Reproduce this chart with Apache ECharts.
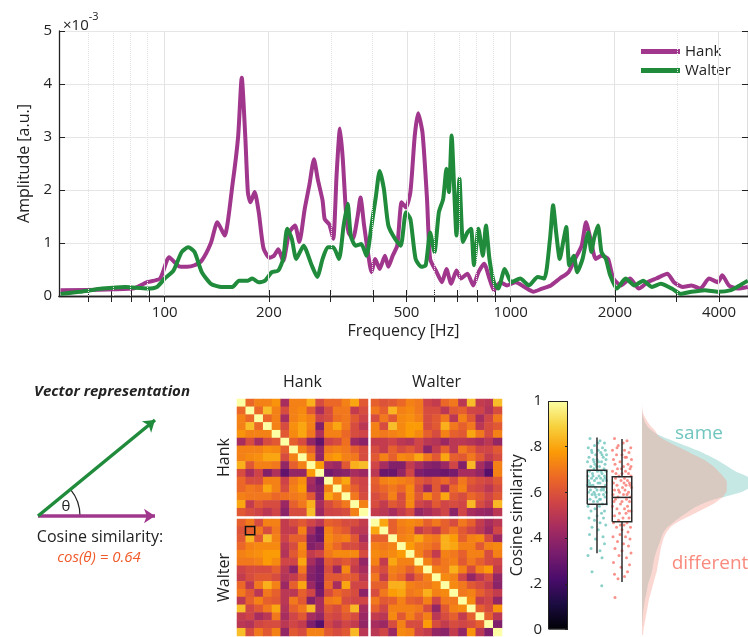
<!DOCTYPE html>
<html><head><meta charset="utf-8">
<script src="https://cdn.jsdelivr.net/npm/echarts@6/dist/echarts.min.js"></script>
<style>html,body{margin:0;padding:0;background:#fff}#c{width:748px;height:637px}</style>
</head><body><div id="c"></div>
<script>
// ---------------- Spectrum data (Hz, amplitude x1e-3) ----------------
const hankFreq = [50,81,89,97,103,110,116,122,128,136,142,149,157,163,167,171,174,177,182,187,193,201,207,213,220,229,238,245,254,262,270,277,286,290,299,307,314,321,327,334,340,350,361,368,377,388,396,406,418,433,443,456,470,484,498,513,528,540,556,573,585,611,633,652,673,697,718,750,779,807,838,868,894,934,976,1034,1096,1163,1232,1307,1386,1469,1535,1604,1651,1700,1761,1829,1911,1979,2086,2212,2346,2487,2636,2836,2963,3142,3331,3531,3744,3969,4087,4270,4528,4843];
const hankAmp  = [0.11,0.14,0.26,0.33,0.73,0.56,0.55,0.58,0.67,1.0,1.39,1.14,2.1,3.0,4.12,3.0,1.95,1.77,1.96,1.58,0.9,0.72,0.76,0.88,0.66,1.2,1.33,1.02,1.65,2.1,2.58,2.2,1.8,1.45,1.35,1.08,2.3,3.16,2.6,1.6,1.2,1.08,1.5,1.86,1.33,0.76,0.45,0.70,0.51,0.76,0.55,0.76,0.95,1.77,1.67,1.96,3.02,3.45,3.08,1.83,0.70,0.45,0.26,0.51,0.23,0.48,0.33,0.42,0.20,0.45,0.61,0.33,0.11,0.26,0.20,0.26,0.17,0.08,0.14,0.20,0.33,0.45,0.70,0.95,1.39,1.08,0.70,0.76,0.70,0.33,0.20,0.33,0.14,0.26,0.33,0.42,0.26,0.17,0.20,0.14,0.33,0.26,0.39,0.20,0.14,0.17];
const walterFreq = [50,57,66,77,89,95,100,106,112,117,122,128,136,146,157,164,174,179,187,195,204,213,220,226,233,240,252,266,276,286,296,307,319,329,338,345,356,370,383,396,408,418,430,443,463,481,498,513,531,552,568,585,602,620,638,652,663,675,687,697,711,728,750,768,783,807,831,848,868,894,920,961,1004,1065,1129,1197,1251,1299,1326,1353,1386,1418,1447,1477,1521,1557,1613,1675,1710,1740,1787,1829,1883,1939,2026,2148,2278,2415,2560,2714,2921,3097,3331,3636,3969,4335,4594,4843];
const walterAmp  = [0.04,0.08,0.14,0.17,0.14,0.17,0.33,0.48,0.83,0.92,0.83,0.45,0.23,0.17,0.17,0.29,0.29,0.33,0.26,0.29,0.45,0.48,0.70,1.27,1.08,0.70,0.95,0.58,0.36,0.70,0.92,0.92,0.70,1.33,1.74,1.14,0.95,0.98,0.76,1.33,1.89,2.36,2.02,1.33,1.08,0.95,1.58,1.45,0.70,0.55,0.58,1.2,0.83,1.58,1.83,2.4,1.96,3.03,1.96,1.14,2.21,1.02,1.2,1.27,0.58,1.27,0.76,1.33,0.70,0.26,0.14,0.51,0.26,0.33,0.2,0.36,0.33,1.08,1.71,1.2,0.70,1.02,1.30,0.58,0.76,0.45,0.70,1.2,0.83,1.08,1.33,0.83,0.70,0.39,0.14,0.33,0.2,0.29,0.17,0.23,0.14,0.04,0.08,0.11,0.08,0.11,0.2,0.29];
const freqLabels = [100,200,500,1000,2000,4000];
const freqTicks = [60,70,80,90,100,200,300,400,500,600,700,800,900,1000,2000,3000,4000];
const freqRange = [49.5,4850];
const ampTicks = [0,1,2,3,4,5];

// ---------------- Similarity matrix (upper triangles + cross block) ----------------
const hankHank = [
 [0.66,0.72,0.72,0.76,0.45,0.72,0.72,0.82,0.58,0.66,0.66,0.72,0.80,0.62],
 [0.66,0.85,0.72,0.58,0.72,0.74,0.62,0.45,0.58,0.70,0.70,0.52,0.58],
 [0.66,0.72,0.45,0.72,0.75,0.72,0.55,0.58,0.68,0.70,0.62,0.55],
 [0.72,0.58,0.75,0.80,0.72,0.36,0.72,0.80,0.70,0.58,0.50],
 [0.62,0.74,0.80,0.70,0.47,0.72,0.72,0.66,0.58,0.56],
 [0.64,0.58,0.40,0.28,0.55,0.58,0.68,0.42,0.38],
 [0.72,0.64,0.40,0.70,0.72,0.70,0.64,0.58],
 [0.72,0.40,0.75,0.78,0.72,0.70,0.58],
 [0.78,0.45,0.42,0.62,0.82,0.85],
 [0.32,0.36,0.38,0.45,0.42],
 [0.72,0.80,0.58,0.55],
 [0.72,0.64,0.56],
 [0.70,0.58],
 [0.72]
];
const hankWalter = [
 [0.64,0.60,0.62,0.66,0.72,0.70,0.55,0.52,0.66,0.70,0.50,0.85,0.52,0.50,0.85],
 [0.70,0.64,0.83,0.72,0.74,0.70,0.58,0.58,0.50,0.62,0.64,0.56,0.55,0.48,0.58],
 [0.58,0.70,0.62,0.74,0.75,0.72,0.58,0.62,0.70,0.50,0.72,0.62,0.45,0.56,0.70],
 [0.72,0.58,0.85,0.74,0.78,0.78,0.58,0.62,0.82,0.70,0.64,0.70,0.50,0.58,0.62],
 [0.72,0.70,0.72,0.74,0.78,0.74,0.64,0.58,0.72,0.64,0.62,0.80,0.70,0.58,0.72],
 [0.52,0.52,0.55,0.50,0.48,0.56,0.50,0.48,0.42,0.50,0.50,0.48,0.45,0.50,0.40],
 [0.58,0.52,0.64,0.58,0.62,0.56,0.38,0.52,0.64,0.50,0.70,0.64,0.56,0.56,0.62],
 [0.62,0.72,0.64,0.74,0.72,0.80,0.70,0.62,0.80,0.64,0.62,0.70,0.62,0.52,0.58],
 [0.56,0.45,0.36,0.36,0.52,0.45,0.38,0.36,0.42,0.56,0.36,0.84,0.45,0.35,0.72],
 [0.50,0.30,0.30,0.40,0.56,0.35,0.32,0.32,0.30,0.33,0.45,0.45,0.40,0.25,0.72],
 [0.64,0.72,0.74,0.72,0.70,0.62,0.58,0.62,0.66,0.58,0.70,0.62,0.58,0.56,0.62],
 [0.62,0.66,0.70,0.66,0.74,0.58,0.42,0.62,0.45,0.66,0.72,0.58,0.56,0.50,0.58],
 [0.58,0.62,0.72,0.58,0.74,0.62,0.74,0.64,0.80,0.62,0.58,0.66,0.62,0.56,0.62],
 [0.58,0.52,0.62,0.58,0.74,0.56,0.52,0.62,0.56,0.58,0.56,0.84,0.58,0.52,0.84],
 [0.52,0.50,0.45,0.52,0.58,0.40,0.45,0.50,0.56,0.38,0.56,0.45,0.42,0.40,0.50]
];
const walterWalter = [
 [0.80,0.64,0.72,0.74,0.72,0.64,0.70,0.64,0.58,0.70,0.64,0.52,0.45,0.50],
 [0.64,0.70,0.72,0.52,0.58,0.52,0.64,0.70,0.62,0.56,0.50,0.42,0.56],
 [0.72,0.74,0.80,0.72,0.70,0.82,0.78,0.64,0.72,0.74,0.58,0.42],
 [0.78,0.72,0.70,0.66,0.82,0.80,0.72,0.72,0.62,0.72,0.74],
 [0.72,0.64,0.52,0.72,0.70,0.64,0.72,0.72,0.58,0.72],
 [0.72,0.64,0.70,0.72,0.62,0.70,0.64,0.58,0.56],
 [0.72,0.70,0.82,0.72,0.58,0.72,0.78,0.52],
 [0.74,0.72,0.56,0.40,0.50,0.58,0.40],
 [0.74,0.70,0.62,0.58,0.52,0.38],
 [0.70,0.72,0.64,0.58,0.52],
 [0.74,0.52,0.56,0.40],
 [0.64,0.58,0.76],
 [0.64,0.50],
 [0.35]
];
const highlightCell = [16, 1]; // [row, col] in full matrix

// ---------------- Box plot / scatter / density data ----------------
const groupNames = ['same','different'];
const sameBox = [0.349,0.559,0.633,0.704,0.844];
const diffBox = [0.226,0.484,0.588,0.676,0.838];
const samePts = [[-0.28,0.84],[0.12,0.83],[0.3,0.82],[-0.1,0.81],[0.22,0.80],[-0.35,0.80],[0.05,0.79],[0.33,0.79],[-0.2,0.78],[0.15,0.78],
 [-0.05,0.77],[0.38,0.77],[-0.32,0.76],[0.25,0.76],[0.0,0.75],[-0.15,0.75],[0.18,0.74],[-0.38,0.74],[0.32,0.73],[-0.08,0.73],
 [0.1,0.72],[-0.25,0.72],[0.28,0.71],[-0.12,0.71],[0.02,0.70],[0.36,0.70],[-0.3,0.70],[0.2,0.69],[-0.18,0.69],[0.08,0.68],
 [-0.36,0.68],[0.3,0.68],[-0.02,0.67],[0.15,0.67],[-0.22,0.67],[0.38,0.66],[-0.1,0.66],[0.24,0.66],[-0.3,0.65],[0.04,0.65],
 [0.12,0.65],[-0.16,0.64],[0.34,0.64],[-0.38,0.64],[0.2,0.63],[-0.06,0.63],[0.28,0.63],[-0.26,0.62],[0.0,0.62],[0.16,0.62],
 [-0.12,0.61],[0.36,0.61],[-0.34,0.61],[0.08,0.60],[0.26,0.60],[-0.2,0.60],[-0.04,0.59],[0.32,0.59],[0.14,0.58],[-0.28,0.58],
 [0.02,0.57],[-0.14,0.57],[0.22,0.56],[0.38,0.56],[-0.36,0.55],[0.1,0.55],[-0.08,0.54],[0.3,0.53],[-0.24,0.53],[0.18,0.52],
 [0.0,0.51],[-0.32,0.50],[0.26,0.50],[-0.1,0.49],[0.12,0.48],[0.35,0.47],[-0.2,0.46],[0.05,0.45],[-0.3,0.43],[0.24,0.42],
 [-0.06,0.41],[0.3,0.39],[-0.24,0.37],[0.12,0.36],[-0.36,0.34],[0.2,0.33],[-0.2,0.27],[0.19,0.21],
 [0.06,0.74],[-0.22,0.79],[0.16,0.70],[-0.34,0.66],[0.26,0.62],[-0.02,0.72],[0.36,0.75],[-0.16,0.68],[0.1,0.58],[-0.26,0.64],[0.2,0.77],[-0.08,0.60],[0.32,0.67],[-0.12,0.74],[0.04,0.82]];
const diffPts = [[-0.3,0.84],[0.2,0.83],[0.05,0.82],[-0.15,0.81],[0.35,0.80],[-0.38,0.79],[0.1,0.79],[0.28,0.78],[-0.22,0.77],[0.0,0.77],
 [0.18,0.76],[-0.34,0.75],[0.38,0.75],[-0.08,0.74],[0.24,0.73],[-0.28,0.73],[0.06,0.72],[0.32,0.71],[-0.18,0.71],[0.14,0.70],
 [-0.38,0.70],[0.0,0.69],[0.26,0.69],[-0.12,0.68],[0.36,0.68],[-0.26,0.67],[0.1,0.67],[0.22,0.66],[-0.04,0.66],[-0.34,0.65],
 [0.3,0.65],[0.16,0.64],[-0.2,0.64],[0.02,0.63],[0.38,0.63],[-0.3,0.62],[0.12,0.62],[-0.1,0.61],[0.26,0.61],[-0.36,0.60],
 [0.06,0.60],[0.34,0.59],[-0.16,0.59],[0.18,0.58],[-0.26,0.58],[0.0,0.57],[0.3,0.57],[-0.06,0.56],[0.22,0.55],[-0.38,0.55],
 [0.1,0.54],[-0.2,0.54],[0.36,0.53],[-0.1,0.52],[0.16,0.52],[-0.3,0.51],[0.04,0.50],[0.28,0.50],[-0.14,0.49],[0.2,0.48],
 [-0.34,0.48],[0.08,0.47],[0.34,0.46],[-0.22,0.46],[0.0,0.45],[0.24,0.44],[-0.08,0.43],[-0.36,0.42],[0.14,0.42],[0.32,0.41],
 [-0.18,0.40],[0.06,0.39],[0.26,0.38],[-0.28,0.37],[0.0,0.36],[0.36,0.35],[-0.12,0.34],[0.18,0.33],[-0.34,0.31],[0.3,0.30],
 [-0.04,0.29],[0.22,0.27],[-0.3,0.26],[0.1,0.25],[-0.16,0.24],[-0.28,0.16],
 [0.12,0.76],[-0.24,0.69],[0.32,0.64],[-0.02,0.71],[0.2,0.60],[-0.32,0.57],[0.08,0.65],[-0.14,0.62],[0.26,0.53],[-0.06,0.47],[0.36,0.72],[-0.2,0.80]];
const densityLevels = [0,0.025,0.05,0.075,0.1,0.125,0.15,0.175,0.2,0.225,0.25,0.275,0.3,0.325,0.35,0.375,0.4,0.425,0.45,0.475,0.5,0.525,0.55,0.575,0.6,0.625,0.65,0.675,0.7,0.725,0.75,0.775,0.8,0.825,0.85,0.875,0.9,0.925,0.95,0.975,1];
const sameDensity = [0,0,0.003,0.007,0.012,0.02,0.028,0.04,0.05,0.062,0.08,0.095,0.105,0.115,0.13,0.15,0.17,0.19,0.22,0.28,0.35,0.43,0.52,0.65,0.86,1.0,1.06,1.0,0.88,0.79,0.70,0.59,0.46,0.32,0.18,0.09,0.04,0.015,0.003,0,0];
const diffDensity = [0.01,0.015,0.025,0.035,0.045,0.055,0.065,0.08,0.095,0.11,0.125,0.14,0.15,0.16,0.17,0.18,0.195,0.215,0.25,0.31,0.41,0.52,0.63,0.72,0.78,0.80,0.80,0.77,0.72,0.66,0.58,0.47,0.36,0.25,0.16,0.12,0.07,0.035,0.01,0.002,0];

// ---------------- Vector illustration ----------------
const hankVec = [1, 0];
const walterVec = [1, 1];
const cosText = 'cos(θ) = 0.64';
const colorbarTicks = [0,0.2,0.4,0.6,0.8,1];

// ---------------- Styling ----------------
const FONT = 'Open Sans';
const HANK = '#a0378c', WALTER = '#1f8b3b';
const TEAL = '#6cc4bc', SALMON = '#f8766d';
const INFERNO = ['#000004','#1b0c41','#4a0c6b','#781c6d','#a52c60','#cf4446','#ed6925','#fb9b06','#f7d13d','#fcffa4'];
const BOX_HALF = 0.39;

const L = Math.log10;
const hankData = hankFreq.map((f,i)=>[L(f), hankAmp[i]]);
const walterData = walterFreq.map((f,i)=>[L(f), walterAmp[i]]);

// build full symmetric matrix
const N = 30, H = 15;
const M = Array.from({length:N}, ()=> new Array(N).fill(1));
hankHank.forEach((row,i)=>row.forEach((v,k)=>{const j=i+1+k; M[i][j]=v; M[j][i]=v;}));
walterWalter.forEach((row,i)=>row.forEach((v,k)=>{const j=i+1+k; M[H+i][H+j]=v; M[H+j][H+i]=v;}));
hankWalter.forEach((row,i)=>row.forEach((v,j)=>{M[i][H+j]=v; M[H+j][i]=v;}));
function block(r0,c0){
  const d=[]; let hl=null;
  for(let r=0;r<H;r++) for(let c=0;c<H;c++){
    const item=[c,r,M[r0+r][c0+c]];
    if(r0+r===highlightCell[0] && c0+c===highlightCell[1]) hl={value:item,itemStyle:{borderColor:'#111',borderWidth:1.5}};
    else d.push(item);
  }
  if(hl) d.push(hl);
  return d;
}
const idx = Array.from({length:H},(_,i)=>String(i));

// box plot outlines as polylines built from the stats
function boxLines(center, s){
  const a = center-BOX_HALF, b = center+BOX_HALF;
  return [
    {coords:[[center,s[0]],[center,s[1]]]},
    {coords:[[center,s[3]],[center,s[4]]]},
    {coords:[[a,s[1]],[b,s[1]],[b,s[3]],[a,s[3]],[a,s[1]]]},
    {coords:[[a,s[2]],[b,s[2]]]}
  ];
}

const gridsHM = [
  {left:237, top:399, width:131, height:117},
  {left:371, top:399, width:131, height:117},
  {left:237, top:519, width:131, height:117},
  {left:371, top:519, width:131, height:117}
];
function hmX(g, name){
  return {type:'category', gridIndex:g, data:idx, position:'top', show: !!name, name:name||'', nameLocation:'middle', nameGap:9,
    nameTextStyle:{fontSize:16,color:'#222',fontFamily:FONT}, axisLine:{show:false}, axisTick:{show:false}, axisLabel:{show:false}, splitLine:{show:false}};
}
function hmY(g, name){
  return {type:'category', gridIndex:g, data:idx, inverse:true, position:'left', show: !!name, name:name||'', nameLocation:'middle', nameGap:5, nameRotate:90,
    nameTextStyle:{fontSize:16,color:'#222',fontFamily:FONT}, axisLine:{show:false}, axisTick:{show:false}, axisLabel:{show:false}, splitLine:{show:false}};
}

const colorbarGradient = new echarts.graphic.LinearGradient(0,1,0,0, INFERNO.map((c,i)=>({offset:i/(INFERNO.length-1), color:c})));

const chart = echarts.init(document.getElementById('c'), null, {renderer:'canvas'});
const option = {
  animation:false,
  textStyle:{fontFamily:FONT},
  title:{text:'{a|×10}{b|-3}', left:58, top:6, textStyle:{fontWeight:'normal', rich:{
    a:{fontSize:15,color:'#222',fontFamily:FONT,fontWeight:'normal',lineHeight:22,verticalAlign:'bottom'},
    b:{fontSize:11,color:'#222',fontFamily:FONT,fontWeight:'normal',lineHeight:22,verticalAlign:'top'}}}},
  legend:{left:641, top:44, padding:0, orient:'vertical', itemWidth:39, itemHeight:5, itemGap:4,
    textStyle:{fontSize:15,color:'#222',fontFamily:FONT},
    data:[{name:'Hank', icon:'rect', itemStyle:{color:HANK, opacity:1}}, {name:'Walter', icon:'rect', itemStyle:{color:WALTER, opacity:1}}]},
  visualMap:{type:'continuous', show:false, min:0, max:1, seriesIndex:[3,4,5,6], inRange:{color:INFERNO}},
  grid:[
    {left:59, top:31, width:689, height:265},
    ...gridsHM,
    {left:548, top:401, width:20, height:234},
    {left:584.5, top:401, width:50, height:234},
    {left:642, top:401, width:110, height:234},
    {left:38, top:420, width:117, height:96}
  ],
  xAxis:[
    {type:'value', gridIndex:0, min:L(freqRange[0]), max:L(freqRange[1]),
      name:'Frequency [Hz]', nameLocation:'middle', nameGap:27, nameTextStyle:{fontSize:16,color:'#222'},
      axisLine:{lineStyle:{color:'#222',width:1.3}},
      axisTick:{inside:true,length:6,lineStyle:{color:'#222'},customValues:freqTicks.map(L)},
      axisLabel:{fontSize:15,color:'#222',margin:9,customValues:freqLabels.map(L),formatter:v=>String(Math.round(Math.pow(10,v)))},
      splitLine:{show:false}},
    {type:'value', gridIndex:0, position:'top', min:L(freqRange[0]), max:L(freqRange[1]),
      axisLine:{lineStyle:{color:'#222',width:1.3}},
      axisTick:{inside:true,length:6,lineStyle:{color:'#222'},customValues:freqTicks.map(L)},
      axisLabel:{show:false}, splitLine:{show:false}},
    hmX(1,'Hank'), hmX(2,'Walter'), hmX(3,''), hmX(4,''),
    {type:'category', gridIndex:5, data:['c'], show:false},
    {type:'category', gridIndex:6, data:groupNames, show:false},
    {type:'value', gridIndex:6, min:0.5, max:2.5, show:false},
    {type:'value', gridIndex:7, min:0, max:1, show:false},
    {type:'value', gridIndex:8, min:0, max:1, show:false}
  ],
  yAxis:[
    {type:'value', gridIndex:0, min:0, max:5, interval:1,
      name:'Amplitude [a.u.]', nameLocation:'middle', nameGap:26, nameTextStyle:{fontSize:16,color:'#222'},
      axisLine:{show:true,lineStyle:{color:'#222',width:1.3}},
      axisTick:{show:true,inside:true,length:6,lineStyle:{color:'#222'}},
      axisLabel:{fontSize:15,color:'#222',margin:7},
      splitLine:{show:true,lineStyle:{color:'#e6e6e6',width:1}}},
    {type:'value', gridIndex:0, position:'right', min:0, max:5, interval:1,
      axisLine:{show:true,lineStyle:{color:'#222',width:1.3}},
      axisTick:{show:true,inside:true,length:6,lineStyle:{color:'#222'}},
      axisLabel:{show:false}, splitLine:{show:false}},
    hmY(1,'Hank'), hmY(2,''), hmY(3,'Walter'), hmY(4,''),
    {type:'value', gridIndex:5, min:0, max:1, interval:0.2, position:'left',
      name:'Cosine similarity', nameLocation:'middle', nameGap:18, nameTextStyle:{fontSize:16,color:'#222'},
      axisLine:{show:false}, axisTick:{show:false},
      axisLabel:{fontSize:15,color:'#222',margin:6,formatter:v=> v===0?'0':(v>=0.999?'1':'.'+Math.round(v*10))},
      splitLine:{show:false}},
    {type:'value', gridIndex:5, min:0, max:1, interval:0.2, position:'right', z:5,
      axisLine:{show:false}, axisTick:{show:true,inside:true,length:3,lineStyle:{color:'#222'}},
      axisLabel:{show:false}, splitLine:{show:false}},
    {type:'value', gridIndex:6, min:0, max:1, show:false},
    {type:'category', gridIndex:7, data:densityLevels.map(String), boundaryGap:false, show:false},
    {type:'value', gridIndex:8, min:0, max:1, show:false}
  ],
  series:[
    // 0: grid lines for log axis
    {type:'line', xAxisIndex:0, yAxisIndex:0, z:1, data:[[2,0]], symbol:'none', lineStyle:{opacity:0}, silent:true,
      markLine:{silent:true, symbol:['none','none'], label:{show:false},
        data:freqTicks.map(f=>({xAxis:L(f), lineStyle:{color:'#e3e3e3', width:1, type: freqLabels.includes(f)?'solid':'dotted'}}))}},
    // 1,2: spectra
    {name:'Hank', type:'line', xAxisIndex:0, yAxisIndex:0, data:hankData, symbol:'none', smooth:0.2, color:HANK,
      lineStyle:{width:4, color:HANK, join:'round'}, z:3},
    {name:'Walter', type:'line', xAxisIndex:0, yAxisIndex:0, data:walterData, symbol:'none', smooth:0.2, color:WALTER,
      lineStyle:{width:4, color:WALTER, join:'round'}, z:4},
    // 3-6 heatmaps
    {type:'heatmap', xAxisIndex:2, yAxisIndex:2, data:block(0,0), emphasis:{disabled:true}, progressive:0},
    {type:'heatmap', xAxisIndex:3, yAxisIndex:3, data:block(0,H), emphasis:{disabled:true}, progressive:0},
    {type:'heatmap', xAxisIndex:4, yAxisIndex:4, data:block(H,0), emphasis:{disabled:true}, progressive:0},
    {type:'heatmap', xAxisIndex:5, yAxisIndex:5, data:block(H,H), emphasis:{disabled:true}, progressive:0},
    // 7 colorbar
    {type:'bar', xAxisIndex:6, yAxisIndex:6, data:[1], barWidth:'100%', silent:true,
      itemStyle:{color:colorbarGradient, borderColor:'#222', borderWidth:1}},
    // 8,9 density
    {type:'line', xAxisIndex:9, yAxisIndex:9, data:sameDensity, smooth:true, symbol:'none', silent:true,
      lineStyle:{width:0}, areaStyle:{color:'#7fcbc4', opacity:0.45}},
    {type:'line', xAxisIndex:9, yAxisIndex:9, data:diffDensity, smooth:true, symbol:'none', silent:true,
      lineStyle:{width:0}, areaStyle:{color:'#f59a8e', opacity:0.4}},
    // 10,11 scatter points
    {type:'scatter', xAxisIndex:8, yAxisIndex:8, data:samePts.map(p=>[1+p[0],p[1]]), symbolSize:3, itemStyle:{color:TEAL}, silent:true},
    {type:'scatter', xAxisIndex:8, yAxisIndex:8, data:diffPts.map(p=>[2+p[0],p[1]]), symbolSize:3, itemStyle:{color:SALMON}, silent:true},
    // 12 box plots
    {type:'lines', coordinateSystem:'cartesian2d', xAxisIndex:8, yAxisIndex:8, polyline:true, z:6, silent:true, clip:false,
      lineStyle:{color:'#2a2a2a', width:1.5, opacity:1},
      data:[...boxLines(1, sameBox), ...boxLines(2, diffBox)]},
    // 13 vectors
    {type:'lines', coordinateSystem:'cartesian2d', xAxisIndex:10, yAxisIndex:10, silent:true, clip:false,
      symbol:['none','arrow'], symbolSize:11,
      data:[
        {coords:[[0,0],hankVec], lineStyle:{color:HANK, width:3.5, opacity:1}},
        {coords:[[0,0],walterVec], lineStyle:{color:WALTER, width:3.5, opacity:1}}
      ]}
  ]
};
chart.setOption(option);

// annotation texts & angle arc, anchored to the vector grid's coordinates
const o = chart.convertToPixel({gridIndex:8}, [0,0]);
const w = chart.convertToPixel({gridIndex:8}, walterVec);
const h = chart.convertToPixel({gridIndex:8}, hankVec);
const angW = Math.atan2(w[1]-o[1], w[0]-o[0]);
const angH = Math.atan2(h[1]-o[1], h[0]-o[0]);
const txt = (x,y,text,font,fill)=>({type:'text', x, y, silent:true,
  style:{text, font, fill:fill||'#222', align:'center', verticalAlign:'middle', textAlign:'center', textVerticalAlign:'middle'}});
chart.setOption({graphic:[
  {type:'arc', silent:true, shape:{cx:o[0], cy:o[1], r:42, startAngle:angW, endAngle:angH, clockwise:true}, style:{stroke:'#222', lineWidth:1.2, fill:null}},
  txt(66, 507, 'θ', '15px "Open Sans"'),
  txt(112, 392, 'Vector representation', 'italic bold 15px "Open Sans"'),
  txt(100, 537, 'Cosine similarity:', '16px "Open Sans"'),
  txt(99, 558, cosText, 'italic 15px "Open Sans"', '#f15a29'),
  txt(699, 434, 'same', '19px "Open Sans"', '#70c6be'),
  txt(710, 564, 'different', '19px "Open Sans"', '#f98a7e')
]});
</script></body></html>
